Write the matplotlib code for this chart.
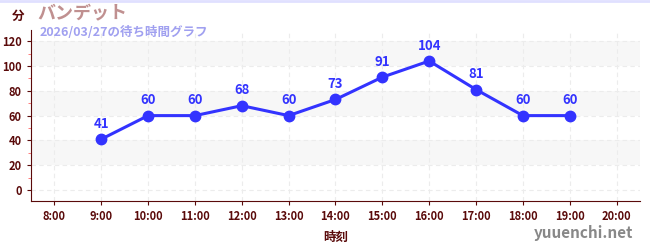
import matplotlib
matplotlib.use("Agg")
import matplotlib.pyplot as plt
from matplotlib.ticker import MultipleLocator

plt.rcParams['font.family'] = ['Noto Sans CJK JP', 'DejaVu Sans']

hours = [9, 10, 11, 12, 13, 14, 15, 16, 17, 18, 19]
waits = [41, 60, 60, 68, 60, 73, 91, 104, 81, 60, 60]
tick_hours = list(range(8, 21))
tick_labels = ["{}:00".format(h) for h in tick_hours]

dark = "#5a0a0a"
blue = "#3333ff"

fig = plt.figure(figsize=(6.5, 2.5), dpi=100)
ax = fig.add_axes([31 / 650, 1 - 200.6 / 250, 609 / 650, 170.6 / 250])

ax.set_xlim(7.5, 20.5)
ax.set_ylim(-8.5, 129)

# grey bands
for lo in (20, 60, 100):
    ax.axhspan(lo, lo + 20, color="#f7f7f7", zorder=0, lw=0)

ax.set_xticks(tick_hours)
ax.set_xticklabels(tick_labels)
ax.set_yticks(range(0, 121, 20))
ax.yaxis.set_minor_locator(MultipleLocator(10))
ax.grid(True, which="major", color="#ececec", ls=(0, (4, 3)), lw=0.8, zorder=0)

for s in ("top", "right"):
    ax.spines[s].set_visible(False)
ax.spines["left"].set_color(dark)
ax.spines["bottom"].set_color(dark)
ax.tick_params(axis="both", colors=dark, labelsize=8, length=3)
ax.tick_params(axis="y", which="minor", colors="#ff6666", length=2)
for lab in ax.get_xticklabels() + ax.get_yticklabels():
    lab.set_fontweight("bold")

ax.plot(hours, waits, color=blue, lw=2.2, marker="o", ms=7.5, zorder=3)
for h, w in zip(hours, waits):
    ax.annotate(str(w), (h, w), xytext=(0, 6), textcoords="offset points",
                ha="center", va="bottom", color=blue, fontsize=9.5, fontweight="bold")

ax.set_xlabel("時刻", color=dark, fontsize=9, fontweight="bold", labelpad=6)

fig.text(18 / 650, 1 - 16 / 250, "分", color=dark, fontsize=9, fontweight="bold", va="center", ha="center")
fig.text(37 / 650, 1 - 14 / 250, "バンデット", color="#c09090", fontsize=13, fontweight="bold", va="center")
fig.text(40 / 650, 1 - 32 / 250, "2026/03/27の待ち時間グラフ", color="#a0a0f0", fontsize=9, fontweight="bold", va="center")
fig.text(633 / 650, 1 - 233 / 250, "yuuenchi.net", color="#888888", fontsize=11, fontweight="bold", va="center", ha="right")

fig.add_artist(plt.Line2D([0, 1], [1 - 0.5 / 250, 1 - 0.5 / 250], color="#e0e0ff", lw=2))

fig.savefig("out.png", dpi=100)
